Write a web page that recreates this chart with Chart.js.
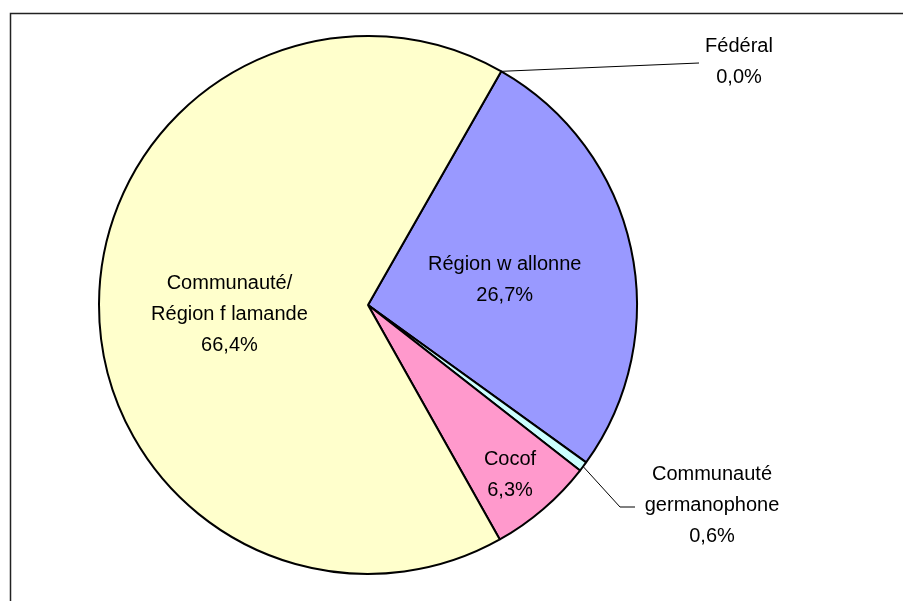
<!DOCTYPE html>
<html>
<head>
<meta charset="utf-8">
<script src="https://cdn.jsdelivr.net/npm/chart.js@4"></script>
<style>
  html, body { margin: 0; padding: 0; background: #fff; }
  #wrap { width: 903px; height: 601px; position: relative; }
</style>
</head>
<body>
<div id="wrap"><canvas id="pie"></canvas></div>
<script>
// shares by level of government (%)
const labels = ['Fédéral', 'Région wallonne', 'Communauté germanophone', 'Cocof', 'Communauté/Région flamande'];
const shares = [0.0, 26.7, 0.6, 6.3, 66.4];
const labelLines = [
    ['Fédéral', '0,0%'],
    ['Région w allonne', '26,7%'],
    ['Communauté', 'germanophone', '0,6%'],
    ['Cocof', '6,3%'],
    ['Communauté/', 'Région f lamande', '66,4%']
];
const colors = ['#FFFFFF', '#9999FF', '#CCFFFF', '#FF99CC', '#FFFFCC'];

// where each label sits: inside the slice (fraction of radius, plus a nudge down)
// or outside with a leader line
const labelPlace = [
    { outside: true, text: [371, -243], elbow: [331, -242] },
    { inside: 0.52, dy: 5 },
    { outside: true, text: [344, 200], elbow: [252, 202], bend: [267, 202] },
    { inside: 0.81, dy: 5 },
    { inside: 0.515, dy: 10 }
];

const FONT = '20px "Liberation Sans", Arial, sans-serif';
const LINE_H = 31;

const framePlugin = {
    id: 'frame',
    beforeDraw(chart) {
        const ctx = chart.ctx;
        ctx.save();
        ctx.strokeStyle = '#222';
        ctx.lineWidth = 1.5;
        ctx.strokeRect(10.5, 13.5, 920, 620);
        ctx.restore();
    }
};

const labelPlugin = {
    id: 'sliceLabels',
    afterDraw(chart) {
        const ctx = chart.ctx;
        const meta = chart.getDatasetMeta(0);
        ctx.save();
        ctx.font = FONT;
        ctx.fillStyle = '#000';
        ctx.textAlign = 'center';
        ctx.textBaseline = 'middle';
        meta.data.forEach((arc, i) => {
            const p = arc.getProps(['x', 'y', 'startAngle', 'endAngle', 'outerRadius']);
            const mid = (p.startAngle + p.endAngle) / 2;
            const place = labelPlace[i];
            const lines = labelLines[i];
            let cx, cy;
            if (place.inside) {
                cx = p.x + Math.cos(mid) * p.outerRadius * place.inside;
                cy = p.y + Math.sin(mid) * p.outerRadius * place.inside + place.dy;
            } else {
                cx = p.x + place.text[0];
                cy = p.y + place.text[1];
                const ex = p.x + Math.cos(mid) * p.outerRadius;
                const ey = p.y + Math.sin(mid) * p.outerRadius;
                ctx.strokeStyle = '#000';
                ctx.lineWidth = 1;
                ctx.beginPath();
                ctx.moveTo(ex, ey);
                ctx.lineTo(p.x + place.elbow[0], p.y + place.elbow[1]);
                if (place.bend) ctx.lineTo(p.x + place.bend[0], p.y + place.bend[1]);
                ctx.stroke();
            }
            const top = cy - (lines.length - 1) * LINE_H / 2;
            lines.forEach((t, k) => ctx.fillText(t, cx, top + k * LINE_H));
        });
        ctx.restore();
    }
};

new Chart(document.getElementById('pie'), {
    type: 'pie',
    data: {
        labels: labels,
        datasets: [{
            data: shares,
            backgroundColor: colors,
            borderColor: '#000',
            borderWidth: 2,
            hoverOffset: 0
        }]
    },
    options: {
        responsive: true,
        maintainAspectRatio: false,
        animation: false,
        rotation: 29.7,
        layout: { padding: { left: 98, right: 265, top: 34, bottom: 25 } },
        plugins: {
            legend: { display: false },
            tooltip: { enabled: false }
        }
    },
    plugins: [framePlugin, labelPlugin]
});
</script>
</body>
</html>
